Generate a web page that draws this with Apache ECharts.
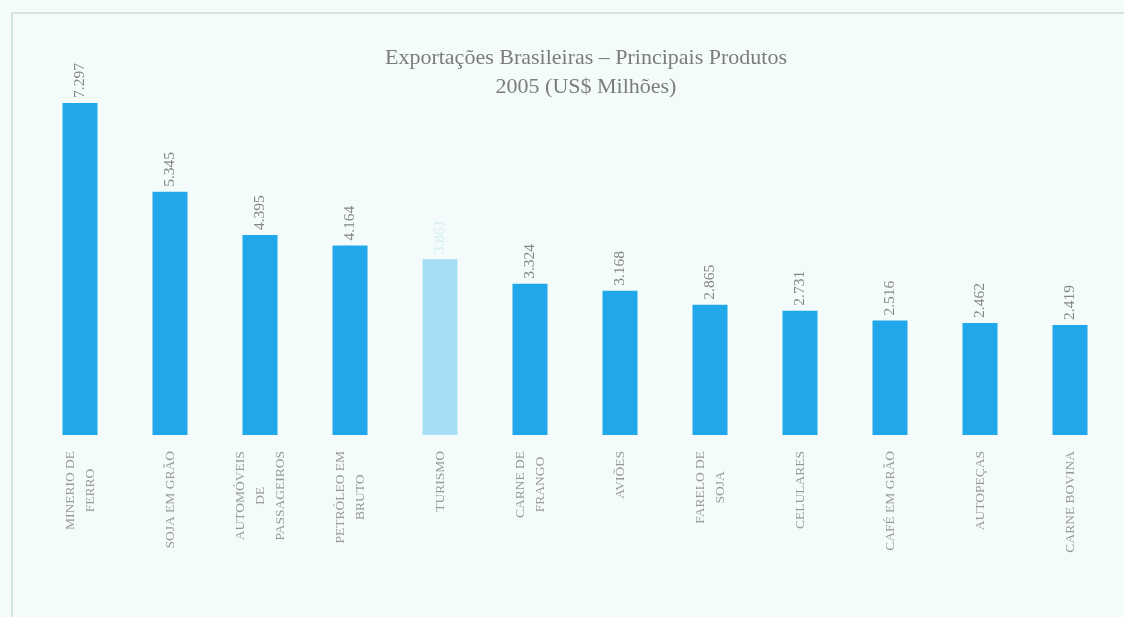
<!DOCTYPE html>
<html>
<head>
<meta charset="utf-8">
<script src="https://cdn.jsdelivr.net/npm/echarts@6/dist/echarts.min.js"></script>
<style>
  html, body { margin: 0; padding: 0; background: #f3fcfb; }
  #chart { width: 1124px; height: 617px; }
</style>
</head>
<body>
<div id="chart"></div>
<script>
// Principais produtos exportados pelo Brasil em 2005 (US$ milhões)
const categories = [
  'MINERIO DE\nFERRO',
  'SOJA EM GRÃO',
  'AUTOMÓVEIS\nDE\nPASSAGEIROS',
  'PETRÓLEO EM\nBRUTO',
  'TURISMO',
  'CARNE DE\nFRANGO',
  'AVIÕES',
  'FARELO DE\nSOJA',
  'CELULARES',
  'CAFÉ EM GRÃO',
  'AUTOPEÇAS',
  'CARNE BOVINA'
];
const values = [7297, 5345, 4395, 4164, 3861, 3324, 3168, 2865, 2731, 2516, 2462, 2419];
const highlighted = 'TURISMO';

const titleLines = ['Exportações Brasileiras – Principais Produtos', '2005 (US$ Milhões)'];

const serif = '"Liberation Serif", "DejaVu Serif", serif';
const fmt = v => v.toLocaleString('pt-BR');

const barData = values.map((v, i) => {
  const isHi = categories[i] === highlighted;
  return {
    value: v,
    itemStyle: { color: isHi ? '#a8def5' : '#21a8ea' },
    label: isHi ? { color: '#d8eef0' } : undefined
  };
});

// each line of a category name is centred inside its block
const centredLines = s => s.split('\n').map(l => '{c|' + l + '}').join('\n');

const chart = echarts.init(document.getElementById('chart'), null, { renderer: 'canvas' });
chart.setOption({
  backgroundColor: '#f3fcfb',
  animation: false,
  title: {
    text: titleLines.join('\n'),
    left: 581,
    textAlign: 'center',
    top: 39,
    textStyle: {
      fontFamily: serif,
      fontWeight: 'normal',
      fontSize: 22,
      lineHeight: 29,
      color: '#7c7c7c'
    }
  },
  graphic: [{
    type: 'rect',
    shape: { x: 12, y: 13, width: 1200, height: 700 },
    style: { fill: 'none', stroke: '#c9ddd9', lineWidth: 1.5 },
    silent: true
  }],
  grid: { left: 35, right: 9, top: 71, bottom: 182 },
  xAxis: {
    type: 'category',
    data: categories,
    axisLine: { show: false },
    axisTick: { show: false },
    axisLabel: {
      interval: 0,
      rotate: 90,
      margin: 16,
      formatter: centredLines,
      rich: {
        c: {
          align: 'center',
          fontFamily: serif,
          fontSize: 13.5,
          lineHeight: 20,
          color: '#9a9a9a'
        }
      }
    }
  },
  yAxis: {
    type: 'value',
    min: 0,
    max: 8000,
    show: false,
    splitLine: { show: false }
  },
  series: [{
    type: 'bar',
    data: barData,
    barWidth: 35,
    label: {
      show: true,
      position: 'top',
      rotate: 90,
      align: 'left',
      verticalAlign: 'middle',
      distance: 5,
      fontFamily: serif,
      fontSize: 15.5,
      color: '#858585',
      formatter: p => fmt(p.value)
    }
  }]
});
</script>
</body>
</html>
